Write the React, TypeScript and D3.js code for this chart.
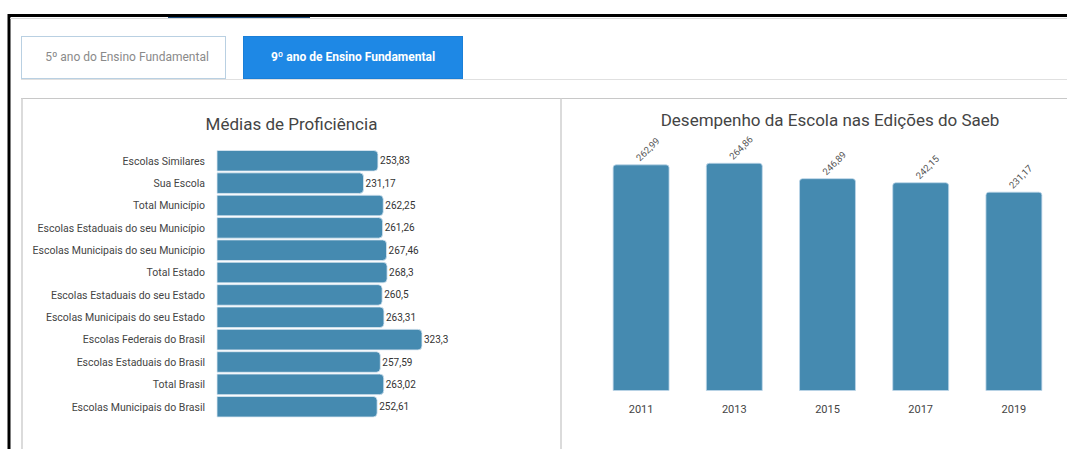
import React from "react";
import * as d3 from "d3";

const categories = [
  "Escolas Similares",
  "Sua Escola",
  "Total Município",
  "Escolas Estaduais do seu Município",
  "Escolas Municipais do seu Município",
  "Total Estado",
  "Escolas Estaduais do seu Estado",
  "Escolas Municipais do seu Estado",
  "Escolas Federais do Brasil",
  "Escolas Estaduais do Brasil",
  "Total Brasil",
  "Escolas Municipais do Brasil",
];
const proficiency = [253.83, 231.17, 262.25, 261.26, 267.46, 268.3, 260.5, 263.31, 323.3, 257.59, 263.02, 252.61];

const years = ["2011", "2013", "2015", "2017", "2019"];
const yearValues = [262.99, 264.86, 246.89, 242.15, 231.17];

const tabLabels = ["5º ano do Ensino Fundamental", "9º ano de Ensino Fundamental"];
const titles = ["Médias de Proficiência", "Desempenho da Escola nas Edições do Saeb"];

const fmt = (v: number) => String(v).replace(".", ",");
const BAR = "#458AB0";
const FONT = "Roboto, 'Noto Sans', sans-serif";

function hbarPath(x0: number, y: number, w: number, h: number, r: number) {
  const rr = Math.min(r, w, h / 2);
  return `M${x0},${y}H${x0 + w - rr}Q${x0 + w},${y} ${x0 + w},${y + rr}V${y + h - rr}Q${x0 + w},${y + h} ${x0 + w - rr},${y + h}H${x0}Z`;
}
function vbarPath(x: number, y0: number, w: number, h: number, r: number) {
  const rr = Math.min(r, h, w / 2);
  const top = y0 - h;
  return `M${x},${y0}V${top + rr}Q${x},${top} ${x + rr},${top}H${x + w - rr}Q${x + w},${top} ${x + w},${top + rr}V${y0}Z`;
}

export default function App() {
  // left chart scales
  const yBand = d3.scaleBand<string>().domain(categories).range([150.5, 417]).paddingInner(0.08);
  const xLin = d3.scaleLinear().domain([0, 340]).range([217, 217 + 340 * 0.634]);

  // right chart scales
  const xBand = d3.scaleBand<string>().domain(years).range([594.5, 1060.5]).paddingInner(0.4).paddingOuter(0.2);
  const yLin = d3.scaleLinear().domain([0, 300]).range([390.5, 390.5 - 300 * 0.858]);

  return (
    <svg
      width={1067}
      height={449}
      style={{ position: "absolute", left: 0, top: 0, background: "#fff" }}
      fontFamily={FONT}
    >
      <rect x={0} y={0} width={1067} height={449} fill="#fff" />
      {/* outer black frame */}
      <line x1={8} x2={1067} y1={15.5} y2={15.5} stroke="#000" strokeWidth={3} />
      <line x1={9} x2={9} y1={14} y2={449} stroke="#000" strokeWidth={3} />
      <line x1={168} x2={310} y1={17.5} y2={17.5} stroke="#1a4a7a" strokeWidth={1} />
      <line x1={10} x2={1067} y1={18.5} y2={18.5} stroke="#d8d8d8" strokeWidth={1} />

      {/* tabs */}
      <line x1={21} x2={1067} y1={79.5} y2={79.5} stroke="#e0e0e0" strokeWidth={1} />
      <rect x={21.5} y={36.5} width={204} height={42} fill="#fff" stroke="#b9d0e2" strokeWidth={1} />
      <text x={127} y={61} textAnchor="middle" fontSize={12} fill="#8a8a8a">
        {tabLabels[0]}
      </text>
      <rect x={243.5} y={36.5} width={219} height={42} fill="#1E88E5" stroke="#1a7fd8" strokeWidth={1} />
      <text x={353} y={61} textAnchor="middle" fontSize={12} fontWeight={700} fill="#fff">
        {tabLabels[1]}
      </text>

      {/* panels */}
      <line x1={21} x2={1067} y1={98.5} y2={98.5} stroke="#c8c8c8" strokeWidth={1} />
      <line x1={22} x2={22} y1={98} y2={449} stroke="#cfcfcf" strokeWidth={1.5} />
      <line x1={561} x2={561} y1={98} y2={449} stroke="#cfcfcf" strokeWidth={1.5} />

      {/* left chart */}
      <text x={291.5} y={130} textAnchor="middle" fontSize={17} fill="#444">
        {titles[0]}
      </text>
      {categories.map((c, i) => {
        const y = yBand(c)!;
        const h = yBand.bandwidth();
        const w = xLin(proficiency[i]) - xLin(0);
        return (
          <g key={c}>
            <text x={205} y={y + h / 2 + 3.8} textAnchor="end" fontSize={10.5} fill="#444">
              {c}
            </text>
            <path d={hbarPath(xLin(0), y, w, h, 4)} fill={BAR} stroke="#dce9f2" strokeWidth={0.8} />
            <text x={xLin(proficiency[i]) + 2} y={y + h / 2 + 3.5} fontSize={10} fill="#333">
              {fmt(proficiency[i])}
            </text>
          </g>
        );
      })}

      {/* right chart */}
      <text x={830} y={126} textAnchor="middle" fontSize={17} fill="#444">
        {titles[1]}
      </text>
      {years.map((yr, i) => {
        const x = xBand(yr)!;
        const w = xBand.bandwidth();
        const v = yearValues[i];
        const top = yLin(v);
        const cx = x + w / 2;
        return (
          <g key={yr}>
            <path d={vbarPath(x, yLin(0), w, yLin(0) - top, 3)} fill={BAR} stroke="#bcd6e8" strokeWidth={0.8} />
            <text
              transform={`translate(${cx - 1},${top - 3}) rotate(-45)`}
              fontSize={9.5}
              fill="#555"
            >
              {fmt(v)}
            </text>
            <text x={cx} y={413} textAnchor="middle" fontSize={11} fill="#444">
              {yr}
            </text>
          </g>
        );
      })}
    </svg>
  );
}
